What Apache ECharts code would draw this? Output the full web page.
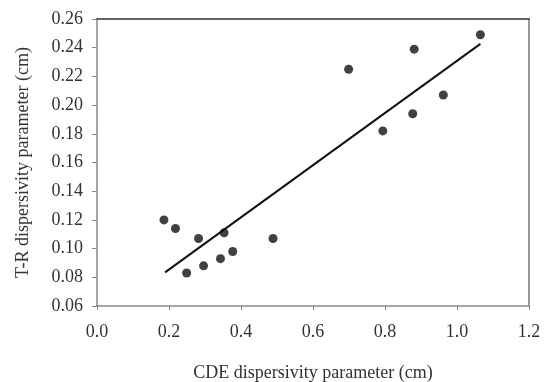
<!DOCTYPE html>
<html><head><meta charset="utf-8">
<script src="https://cdn.jsdelivr.net/npm/echarts@6/dist/echarts.min.js"></script>
<style>html,body{margin:0;padding:0;background:#fff}#c{width:547px;height:382px}</style>
</head><body><div id="c"></div>
<script>
var cdeX = [0.186, 0.218, 0.249, 0.282, 0.296, 0.343, 0.353, 0.377, 0.489, 0.699, 0.794, 0.877, 0.881, 0.962, 1.065];
var trY  = [0.120, 0.114, 0.083, 0.107, 0.088, 0.093, 0.111, 0.098, 0.107, 0.225, 0.182, 0.194, 0.239, 0.207, 0.249];
var fitX = [0.189, 1.065];
var fitY = [0.0834, 0.2427];
var xTitle = 'CDE dispersivity parameter (cm)';
var yTitle = 'T-R dispersivity parameter (cm)';

var pts = cdeX.map(function(x, i){ return [x, trY[i]]; });
var line = fitX.map(function(x, i){ return [x, fitY[i]]; });
var font = 'Liberation Serif';
var chart = echarts.init(document.getElementById('c'));
chart.setOption({
  animation: false,
  grid: {left: 97, top: 19, right: 18, bottom: 76, containLabel: false, outerBoundsMode: 'none'},
  xAxis: [{
    type: 'value', min: 0, max: 1.2, interval: 0.2,
    name: xTitle, nameLocation: 'middle', nameGap: 58,
    nameTextStyle: {fontFamily: font, fontSize: 18, color: '#333'},
    axisLine: {onZero: false, lineStyle: {color: '#888', width: 1.5}},
    axisTick: {show: true, inside: false, length: 4, lineStyle: {color: '#888'}},
    axisLabel: {fontFamily: font, fontSize: 18, color: '#333', margin: 17, formatter: function(v){return v.toFixed(1);}},
    splitLine: {show: false}
  }, {
    type: 'value', min: 0, max: 1.2, position: 'top',
    axisLine: {show: true, onZero: false, lineStyle: {color: '#333', width: 1.5}},
    axisTick: {show: false}, axisLabel: {show: false}, splitLine: {show: false}
  }],
  yAxis: [{
    type: 'value', min: 0.06, max: 0.26, interval: 0.02,
    name: yTitle, nameLocation: 'middle', nameGap: 65,
    nameTextStyle: {fontFamily: font, fontSize: 18, color: '#333'},
    axisLine: {show: true, onZero: false, lineStyle: {color: '#888', width: 1.5}},
    axisTick: {show: true, inside: false, length: 5, lineStyle: {color: '#888'}},
    axisLabel: {fontFamily: font, fontSize: 18, color: '#333', margin: 14, formatter: function(v){return v.toFixed(2);}},
    splitLine: {show: false}
  }, {
    type: 'value', min: 0.06, max: 0.26, position: 'right',
    axisLine: {show: true, onZero: false, lineStyle: {color: '#999', width: 2}},
    axisTick: {show: false}, axisLabel: {show: false}, splitLine: {show: false}
  }],
  series: [{
    type: 'line', data: line, symbol: 'none',
    lineStyle: {color: '#111', width: 2}
  }, {
    type: 'scatter', data: pts, symbol: 'circle', symbolSize: 9,
    itemStyle: {color: '#111'}
  }]
});
</script></body></html>
